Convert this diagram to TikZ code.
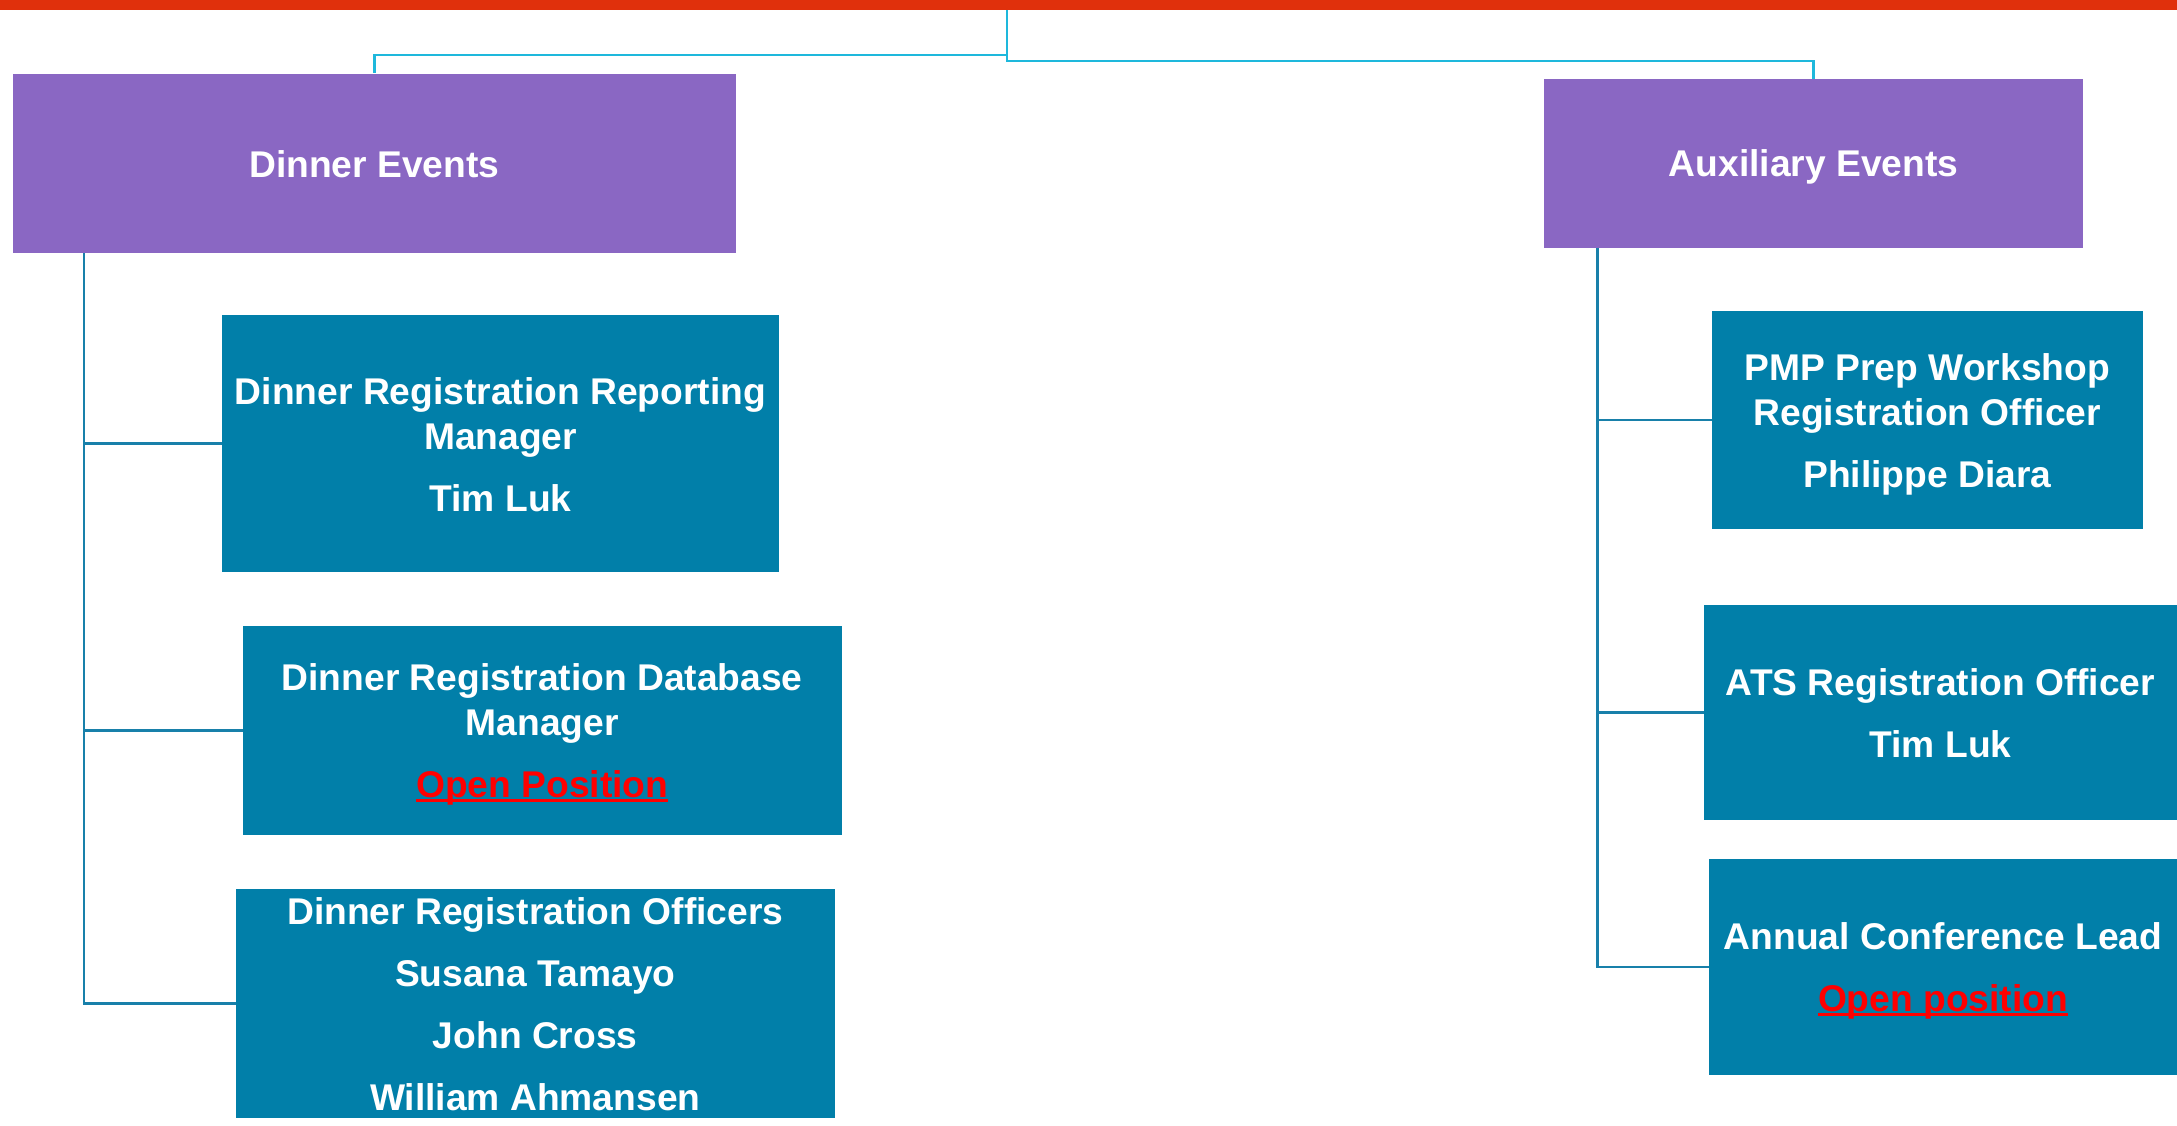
\documentclass[tikz,border=0pt]{standalone}
\usepackage{fontspec}
\setmainfont{Liberation Sans}
\definecolor{redbar}{RGB}{224,48,12}
\definecolor{purp}{RGB}{138,103,195}
\definecolor{boxteal}{RGB}{1,127,169}
\definecolor{topcyan}{RGB}{30,184,220}
\definecolor{linkteal}{RGB}{24,128,170}
\definecolor{openred}{RGB}{255,0,0}
\newcommand\ps{\rule[-0.172em]{0pt}{1.117em}}
\newcommand\redul[1]{\textcolor{openred}{\setbox0\hbox{#1}\rlap{\rule[-0.11em]{\wd0}{0.075em}}\box0}}
\tikzset{
  unitbox/.style={rectangle, inner sep=0pt, text=white,
    font=\fontsize{18.6pt}{22.5pt}\selectfont\bfseries, align=center},
  grpbox/.style={unitbox, fill=purp},
  rolebox/.style={unitbox, fill=boxteal},
  topline/.style={draw=topcyan, line width=1.25pt},
  branch/.style={draw=linkteal, line width=1.25pt},
}
\begin{document}
\begin{tikzpicture}[x=0.5pt,y=-0.5pt]
\useasboundingbox (0,0) rectangle (2177,1125);
\fill[redbar] (0,0) rectangle (2177,10);
\coordinate (top) at (1007,10);

\node[grpbox, minimum width=361.75pt, minimum height=89.55pt] (dinner) at (374.25,163.15) {\ps Dinner Events};
\node[grpbox, minimum width=269.5pt, minimum height=84.25pt] (aux) at (1813.5,163.25) {\ps Auxiliary Events};

\node[rolebox, minimum width=278.5pt, minimum height=128.5pt] (dr1) at (500.5,443.5)
  {\ps Dinner Registration Reporting\\\ps Manager\\[8.5pt]\ps Tim Luk};
\node[rolebox, minimum width=299.25pt, minimum height=104.25pt] (dr2) at (542.25,730.25)
  {\ps Dinner Registration Database\\\ps Manager\\[8.5pt]\ps\redul{Open Position}};
\node[rolebox, minimum width=299.25pt, minimum height=114.25pt] (dr3) at (535.25,1003.25)
  {\ps Dinner Registration Officers\\[8.5pt]\ps Susana Tamayo\\[8.5pt]\ps John Cross\\[8.5pt]\ps William Ahmansen};

\node[rolebox, minimum width=215.25pt, minimum height=109pt] (pmp) at (1927.25,420)
  {\ps PMP Prep Workshop\\\ps Registration Officer\\[8.5pt]\ps Philippe Diara};
\node[rolebox, minimum width=236.5pt, minimum height=107.5pt] (ats) at (1940.5,712.5)
  {\ps ATS Registration Officer\\[8.5pt]\ps Tim Luk};
\node[rolebox, minimum width=234pt, minimum height=108pt] (acl) at (1943,967)
  {\ps Annual Conference Lead\\[8.5pt]\ps\redul{Open position}};

\draw[topline] (top) -- ++(0,45) -| (dinner.north);
\draw[topline] (top) -- ++(0,51) -| (aux.north);

\coordinate (lt) at ([xshift=36pt]dinner.south west);
\draw[branch] (lt) |- (dr1.west) (lt) |- (dr2.west) (lt) |- (dr3.west);
\coordinate (rt) at ([xshift=27pt]aux.south west);
\draw[branch] (rt) |- (pmp.west) (rt) |- (ats.west) (rt) |- (acl.west);
\end{tikzpicture}
\end{document}
